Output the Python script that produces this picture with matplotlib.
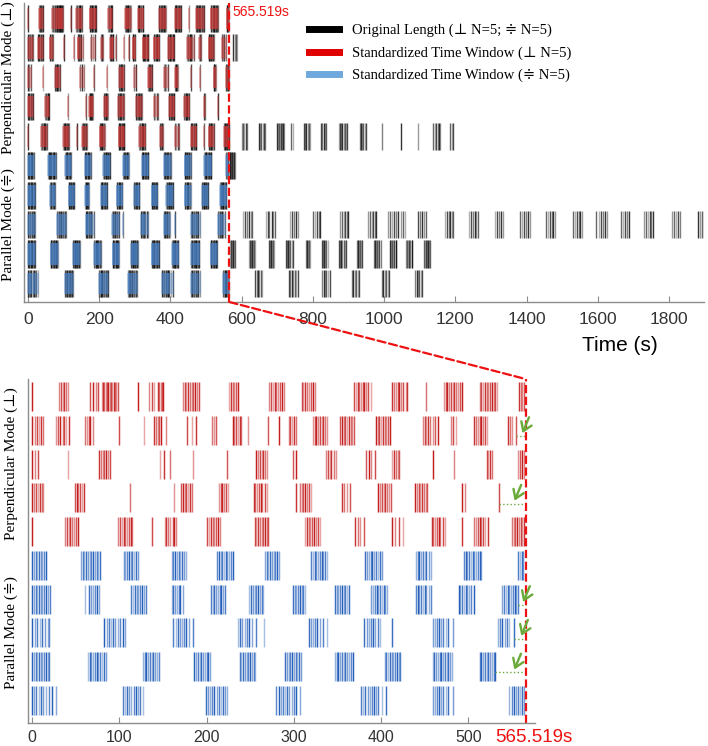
import matplotlib
matplotlib.use('Agg')
import matplotlib.pyplot as plt
from matplotlib.colors import to_rgba
from matplotlib.lines import Line2D
from matplotlib.patches import ConnectionPatch
from matplotlib.transforms import blended_transform_factory

# standardized time window (s)
window = 565.519

perp_1 = [0, 31, 33, 35, 37, 38.5, 41.6, 67, 70, 73, 76, 80, 81.5, 83, 84.5, 86, 87.5, 89,
          90.5, 92, 93.5, 95, 96.5, 98, 122, 134, 137, 140, 144, 146, 147.5, 149, 150.5,
          173, 175, 177, 179, 181, 183, 185, 187, 189, 191, 226, 228, 230, 232, 234, 236,
          272, 274, 276, 278, 280, 282, 284.5, 287, 289, 309, 311, 313, 315, 317, 319.5,
          322, 324, 369, 371, 373, 375, 377, 379, 381, 383, 385.5, 388, 413, 415, 417,
          419, 421, 423, 425.5, 428, 430, 451, 472, 474, 476, 478, 480, 482, 484, 486,
          488, 490.5, 493, 513, 515, 517, 519, 521, 523, 525, 527, 529, 531, 533, 558,
          560, 562, 564]
perp_2 = [0, 3.5, 5.5, 8, 10.5, 13, 28, 30, 32.5, 35, 37, 39.5, 42, 61, 63, 65, 67, 69.5,
          100, 128, 140, 142, 144, 146, 148, 154, 178, 183, 188, 206, 208.5, 211, 230, 232,
          234, 236, 238, 240, 248, 270, 283, 294, 296, 298, 300, 302, 322, 324, 326, 328,
          330, 332, 334, 336, 338, 353, 355, 357, 359, 361, 363, 365, 367, 369, 394, 396,
          398, 400, 402, 404, 406, 408, 410.5, 448, 450, 452, 454, 456, 459, 462, 465, 480,
          483, 486, 507, 509, 511, 513, 515, 517, 519, 521, 545, 547.5, 550, 555,
          576, 580, 584, 588]
perp_3 = [0, 3.4, 7.3, 41, 77, 79, 81, 83, 85, 87, 89, 147, 151, 158, 185, 223, 257, 259,
          261, 263, 265, 267, 269, 299, 303, 337, 339, 341, 343, 345.5, 348, 383, 386, 389,
          393, 412, 414.5, 417, 419, 421, 459, 484, 521, 523, 525, 527, 557, 559, 561, 564]
perp_4 = [0, 2, 4, 6.5, 9, 11, 13, 49, 51, 53, 55, 57.5, 60, 112, 163, 171, 173, 175, 177,
          179, 181, 183, 214, 216, 218, 220, 222.5, 225, 254, 256, 258, 260, 262, 264,
          266.5, 269, 302.5, 307, 309, 311, 313, 315, 317.5, 320, 355, 358, 361, 364, 397,
          399, 401, 403, 405, 407, 409, 411, 439, 441, 443, 445, 447, 449, 451, 453, 493,
          496, 535]
perp_5 = [0, 38, 40, 42, 44, 46, 48, 50.5, 53, 99, 101, 103, 105, 107, 109, 111, 113, 115,
          137, 152, 154, 156, 158.5, 161, 163, 165, 201, 203, 205, 207, 209, 211, 213,
          215.5, 255, 257, 259, 261, 263, 265, 267, 269, 271, 313, 315, 317, 319, 321, 323,
          325, 327.5, 330, 370, 373, 376, 380, 412, 416, 420, 425, 458, 460, 462, 464, 466,
          468, 470.5, 473, 493, 507, 509, 511, 513, 515, 517, 519.5, 522, 550, 552, 554,
          556, 558, 560, 562, 564,
          601, 604, 607, 611, 615, 649, 652, 655, 659, 663, 666, 699, 702, 705, 708, 711,
          714, 717, 719, 739, 744, 775, 778, 781, 785, 789, 792, 823, 826, 830, 834, 837,
          874, 877, 880, 883, 886, 889, 892, 896, 933, 936, 939, 942, 946, 950, 994, 1048,
          1096, 1138, 1142, 1146, 1150, 1154, 1157, 1185, 1190, 1194]
para_1 = [0, 2, 4, 6, 8, 10, 12, 14, 16.5, 56, 58, 60, 62, 64, 66, 68, 70, 72, 74, 76, 78,
          105, 107, 109, 111, 113, 115, 117, 119, 121, 160, 162, 164, 166, 168, 170, 172,
          174, 176.5, 212, 214, 216, 218, 220, 222, 224, 226, 228, 230, 267, 269, 271, 273,
          275, 277, 279, 281, 283, 320, 322, 324, 326, 328, 330, 332, 334, 336, 338, 382,
          384, 386, 388, 390, 392, 394, 396, 398.5, 401, 440, 442, 444, 446, 448, 450, 452,
          454.5, 457, 495, 497, 499, 501, 503, 505, 507, 509, 511, 513, 515, 557, 559, 561,
          563, 566, 568, 570, 572, 574, 576, 578, 580]
para_2 = [0, 2, 4, 6, 8, 10, 12, 14, 16, 18, 20.5, 61, 65, 68, 70, 72, 74.5, 77, 114, 116,
          118, 120, 122, 124, 126, 128, 130.5, 160, 162, 164, 166, 168, 170, 172.5, 205,
          207, 209, 211, 213, 215, 217, 219, 221, 249, 251, 253, 255, 257, 259, 261, 263,
          265, 299, 301, 303, 305, 307, 309, 311, 313, 347, 349, 351, 353, 355, 357, 359,
          361, 363, 389, 391, 393, 395, 397, 399, 401, 403, 405, 407, 440, 442, 444, 446,
          448, 450, 452, 454.5, 457, 489, 491, 493, 495, 497, 499, 501, 503.5, 506, 539,
          541, 543, 545, 547, 549, 551, 553, 555, 557]
para_3 = [0, 3, 6, 9, 12, 15, 18, 20, 83, 85.5, 88, 90.5, 93, 95.5, 98, 101, 104, 107,
          162, 164.5, 167, 169.5, 172, 174.5, 177, 180, 185, 236, 238.5, 241, 243.5, 246,
          249, 252, 257, 266, 317, 319.5, 322, 324.5, 327, 330, 333, 338, 381, 383.5, 386,
          388.5, 391, 393.5, 396, 399, 412, 459, 461.5, 464, 466.5, 469, 471.5, 474, 477,
          482, 534, 536.5, 539, 541.5, 544, 547, 552,
          604, 609, 614, 620, 625, 629, 668, 673, 678, 684, 689, 694, 736, 741, 746, 752,
          758, 801, 806, 811, 816, 820, 876, 881, 886, 891, 895, 899, 955, 960, 965, 970,
          974, 978, 1011, 1017, 1023, 1028, 1034, 1040, 1046, 1052, 1059, 1095, 1100,
          1105, 1111, 1118, 1171, 1176, 1181, 1186, 1190, 1194, 1239, 1244, 1249, 1254,
          1259, 1264, 1312, 1317, 1322, 1327, 1334, 1382, 1388, 1393, 1399, 1405, 1410,
          1455, 1460, 1465, 1470, 1475, 1480, 1531, 1536, 1541, 1546, 1551, 1556, 1596,
          1602, 1608, 1614, 1620, 1626, 1666, 1671, 1676, 1681, 1688, 1730, 1735, 1740,
          1745, 1750, 1756, 1809, 1814, 1819, 1824, 1831, 1882, 1887, 1892, 1897]
para_4 = [0, 2, 4, 6, 8, 10, 12, 14, 16, 18, 19.5, 64, 66, 68, 70, 72, 74, 76, 78, 80, 82,
          84.5, 127, 129, 131, 133, 135, 137, 139, 141, 143, 145.5, 186, 188, 190, 192,
          194, 196, 198, 200, 202, 204.5, 238, 240, 242, 244, 246, 248, 250, 252, 254, 256,
          290, 292, 294, 296, 298, 300, 302, 304, 306, 308.5, 347, 349, 351, 353, 355, 357,
          359, 361, 363, 365, 367.5, 404, 406, 408, 410, 412, 414, 416, 418, 420, 422, 459,
          461, 463, 465, 467, 469, 471, 473, 475, 477, 479, 481, 513, 515, 517, 519, 521,
          523, 525, 527, 529, 531,
          567, 570, 573, 576, 579, 581, 621, 624, 627, 630, 633, 636, 638, 677, 680, 683,
          686, 689, 691, 725, 728, 731, 734, 737, 740, 744, 781, 784, 787, 790, 793, 826,
          829, 832, 835, 838, 842, 874, 877, 880, 883, 886, 889, 893, 924, 927, 930, 933,
          936, 938, 972, 975, 978, 981, 984, 987, 991, 1017, 1020, 1023, 1026, 1029, 1032,
          1034, 1062, 1065, 1068, 1071, 1074, 1077, 1079, 1112, 1115, 1118, 1121, 1124,
          1127, 1128]
para_5 = [0, 2.5, 5, 7.5, 10, 13, 16, 19, 22.5, 28, 104, 106.5, 109, 111.5, 114, 116.5,
          119, 121.5, 124, 127, 199, 201.5, 204, 206.5, 209, 211.5, 214, 216.5, 219, 221.5,
          224, 280, 282.5, 285, 287.5, 290, 292.5, 295, 297.5, 300, 303, 307, 377, 379.5,
          382, 384.5, 387, 389.5, 392, 394.5, 397, 401, 406, 459, 461.5, 464, 466.5, 469,
          471.5, 474, 477, 482, 547, 549.5, 552, 554.5, 557, 559.5, 562, 564,
          638, 642, 646, 650, 654, 658, 733, 737, 741, 745, 749, 753, 758, 826, 830, 834,
          838, 843, 848, 910, 914, 918, 922, 926, 930, 994, 998, 1002, 1006, 1010, 1014,
          1087, 1091, 1095, 1099, 1103, 1107]

rows = [perp_1, perp_2, perp_3, perp_4, perp_5, para_1, para_2, para_3, para_4, para_5]
row_mode = ['perp'] * 5 + ['para'] * 5
# recordings that stop before the window ends (marked with green arrows)
padded_rows = [1, 3, 6, 7, 8]

top_ticks = [0, 200, 400, 600, 800, 1000, 1200, 1400, 1600, 1800]
bottom_ticks = [0, 100, 200, 300, 400, 500]
legend_labels = ['Original Length (⊥ N=5; ≑ N=5)',
                 'Standardized Time Window (⊥ N=5)',
                 'Standardized Time Window (≑ N=5)']

serif = ['Liberation Serif', 'DejaVu Serif', 'DejaVu Sans']
narrow = ['Liberation Sans Narrow', 'Liberation Sans', 'DejaVu Sans']

line_color = {'perp': '#c41e1e', 'para': '#2560bb'}
overlay_color = {'perp': '#d43c3c', 'para': '#4a88d4'}
shades = [1.0, 0.55, 0.8, 0.4, 0.9, 0.62, 0.48, 0.75]
grays = [0.8, 0.4, 0.6, 0.3, 0.7, 0.5]


def shaded(base, n, cycle):
    '''Returns n rgba colours of one base colour with varying alpha.'''
    return [to_rgba(base, cycle[j % len(cycle)]) for j in range(n)]


def style_axis(ax, ticks, size, pad):
    for side in ['top', 'right']:
        ax.spines[side].set_visible(False)
    for side in ['left', 'bottom']:
        ax.spines[side].set_color('#8c8c8c')
        ax.spines[side].set_linewidth(1.0)
    ax.set_yticks([])
    ax.set_xticks(ticks)
    ax.tick_params(axis='x', direction='in', length=4, color='#8c8c8c',
                   labelsize=size, labelcolor='#333333', pad=pad)
    for lab in ax.get_xticklabels():
        lab.set_family(narrow)


fig = plt.figure(figsize=(7.08, 7.46), dpi=100)
ax_top = fig.add_axes([24 / 708, 1 - 302 / 746, 680 / 708, 299 / 746])
ax_bot = fig.add_axes([28 / 708, 1 - 723 / 746, 507 / 708, 344 / 746])

# top: full recordings with the standardized window laid over them
for i, events in enumerate(rows):
    ax_top.vlines(events, i - 0.46, i + 0.46, colors=shaded('black', len(events), grays),
                  linewidth=1.0)
    inside = [t for t in events if t <= window]
    ax_top.vlines(inside, i - 0.36, i + 0.36, colors=overlay_color[row_mode[i]],
                  alpha=0.5, linewidth=1.1)

ax_top.axvline(window, color='#ee1111', linestyle='--', linewidth=1.6)
ax_top.text(window + 8, -0.22, '565.519s', color='#ee1111', fontsize=10,
            family=narrow, ha='left', va='center')
ax_top.set_xlim(-11, 1898)
ax_top.set_ylim(9.63, -0.527)
style_axis(ax_top, top_ticks, 12.5, 7)
ax_top.text(0.876, -0.147, 'Time (s)', transform=ax_top.transAxes, fontsize=15,
            family=narrow, ha='center', va='center')

handles = [Line2D([], [], color='black', lw=5),
           Line2D([], [], color='#e00000', lw=5),
           Line2D([], [], color='#6fa8dc', lw=5)]
ax_top.legend(handles, legend_labels, loc='upper left', frameon=False,
              bbox_to_anchor=(303 / 708, 1 - 18 / 746), bbox_transform=fig.transFigure,
              prop={'family': serif, 'size': 10.5}, handlelength=2.1,
              handletextpad=0.85, labelspacing=0.62, borderaxespad=0)

# bottom: zoom on the standardized window
green = '#6aaa3a'
for i, events in enumerate(rows):
    inside = [t for t in events if t <= window]
    ax_bot.vlines(inside, i - 0.43, i + 0.43,
                  colors=shaded(line_color[row_mode[i]], len(inside), shades),
                  linewidth=1.05)
    if i in padded_rows:
        last = max(inside)
        gap = window - last
        ax_bot.plot([last, window], [i + 0.17, i + 0.17], color=green, linestyle=':',
                    linewidth=1.0)
        head = (window - min(14, 0.45 * gap), i + 0.16)
        ax_bot.annotate('', xy=head, xytext=(head[0] + 10, head[1] - 0.62),
                        arrowprops=dict(arrowstyle='->,head_length=0.6,head_width=0.4',
                                        color=green, lw=1.7), annotation_clip=False)

ax_bot.axvline(window, color='#ee1111', linestyle='--', linewidth=1.6)
ax_bot.set_xlim(-4.6, 576.4)
ax_bot.set_ylim(9.666, -0.518)
style_axis(ax_bot, bottom_ticks, 11.5, 5)
ax_bot.text(window + 10, -0.042, '565.519s', transform=ax_bot.get_xaxis_transform(),
            color='#ee1111', fontsize=13.5, family=narrow, ha='center', va='center')

# mode labels
for ax, x, size in [(ax_top, -0.0235, 11), (ax_bot, -0.0335, 11)]:
    tr = blended_transform_factory(ax.transAxes, ax.transData)
    ax.text(x, 2.0, 'Perpendicular Mode (⊥)', transform=tr, rotation=90,
            family=serif, fontsize=size, ha='center', va='center')
    ax.text(x, 7.0, 'Parallel Mode (≑)', transform=tr, rotation=90,
            family=serif, fontsize=size, ha='center', va='center')

# dashed link from the window edge to the zoomed panel
con = ConnectionPatch(xyA=(window, 0), coordsA=ax_top.get_xaxis_transform(),
                      xyB=(window, 1), coordsB=ax_bot.get_xaxis_transform(),
                      color='#ee1111', linestyle='--', linewidth=1.6)
fig.add_artist(con)

fig.savefig('out.png', dpi=100)
